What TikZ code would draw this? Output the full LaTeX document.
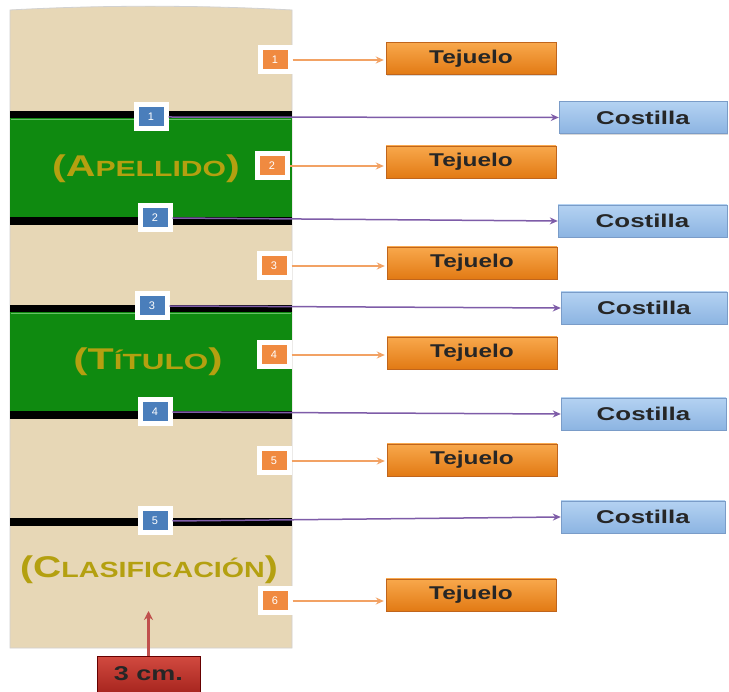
\documentclass[tikz,border=0pt]{standalone}
\usepackage{fontspec}
\setmainfont{Liberation Sans}
\usetikzlibrary{arrows.meta,shadows}
\definecolor{beige}{HTML}{E7D7B6}
\definecolor{spinegreen}{HTML}{0F8A10}
\definecolor{goldtext}{HTML}{B4A010}
\definecolor{sqblue}{HTML}{4A7EBB}
\definecolor{sqorange}{HTML}{F08A40}
\definecolor{arrpurple}{HTML}{7E5CA8}
\definecolor{arrorange}{HTML}{F2A264}
\definecolor{arrred}{HTML}{C0504D}
\definecolor{tejtop}{HTML}{F8A84C}
\definecolor{tejbot}{HTML}{E27A14}
\definecolor{tejdraw}{HTML}{C0651C}
\definecolor{costop}{HTML}{B4D2F2}
\definecolor{cosbot}{HTML}{8CB4E2}
\definecolor{cosdraw}{HTML}{7A9CC8}
\definecolor{redtop}{HTML}{D24A40}
\definecolor{redbot}{HTML}{A8261F}
\newcommand{\sx}[2]{\scalebox{#1}[1]{#2}}
\newcommand{\fs}[1]{\fontsize{#1}{#1}\selectfont}
\tikzset{
  numsq/.style={draw=white, line width=5pt, minimum width=30pt, minimum height=24pt,
    inner sep=0pt, text=white, font=\fs{11},
    drop shadow={opacity=0.3, shadow xshift=1pt, shadow yshift=-1.5pt}},
  bluesq/.style={numsq, fill=sqblue},
  orangesq/.style={numsq, fill=sqorange},
  tejbox/.style={draw=tejdraw, top color=tejtop, bottom color=tejbot,
    minimum width=170pt, minimum height=32pt, inner sep=0pt, font=\fs{18.5}\bfseries, text=black!85,
    drop shadow={opacity=0.3, shadow xshift=1pt, shadow yshift=-1.5pt}},
  cosbox/.style={draw=cosdraw, top color=costop, bottom color=cosbot,
    minimum height=32pt, inner sep=0pt, font=\fs{18.5}\bfseries, text=black!85,
    drop shadow={opacity=0.3, shadow xshift=1pt, shadow yshift=-1.5pt}},
  spinetext/.style={text=goldtext, font=\bfseries, inner sep=0pt},
  purplearrow/.style={draw=arrpurple, line width=1.5pt, -{Stealth[length=8pt,width=7pt]}},
  orangearrow/.style={draw=arrorange, line width=1.5pt, -{Stealth[length=8pt,width=7pt]}, shorten >=2pt},
  redarrow/.style={draw=arrred, line width=2.5pt, -{Stealth[length=9pt,width=9pt]}},
  redbox/.style={draw=red!40!black, top color=redtop, bottom color=redbot,
    minimum width=103pt, minimum height=36pt, inner sep=0pt, font=\fs{20}\bfseries, text=black!85}
}
\begin{document}
\begin{tikzpicture}[x=1pt,y=-1pt]
\useasboundingbox[fill=white] (0,0) rectangle (729,692);
% spine
\fill[beige, draw=black!18, line width=0.8pt] (10,10) .. controls (100,5) and (200,5) .. (292,10) -- (292,648) -- (10,648) -- cycle;
% bands and green panels
\fill[black] (10,111) rectangle (292,118);
\fill[spinegreen] (10,118) rectangle (292,217);
\draw[green!60!black!60!white, line width=1pt] (11,119.5) -- (291,119.5);
\fill[black] (10,217) rectangle (292,225);
\fill[black] (10,305) rectangle (292,312);
\fill[spinegreen] (10,312) rectangle (292,411);
\draw[green!60!black!60!white, line width=1pt] (11,313.5) -- (291,313.5);
\fill[black] (10,411) rectangle (292,419);
\fill[black] (10,518) rectangle (292,526);
% spine texts
\node[spinetext] (apellido) at (146,169) {\sx{1.37}{\fs{30}(A{\fs{22}PELLIDO})}};
\node[spinetext] (titulo) at (148,362) {\sx{1.43}{\fs{30}(T{\fs{22}ÍTULO})}};
\node[spinetext] (clasif) at (149,570) {\sx{1.3}{\fs{30}(C{\fs{22}LASIFICACIÓN})}};
% target boxes
\node[tejbox] (t1) at (471,58.5) {\sx{1.32}{Tejuelo}};
\node[tejbox] (t2) at (471,162) {\sx{1.32}{Tejuelo}};
\node[tejbox] (t3) at (472,263) {\sx{1.32}{Tejuelo}};
\node[tejbox] (t4) at (472,353) {\sx{1.32}{Tejuelo}};
\node[tejbox] (t5) at (472,460) {\sx{1.32}{Tejuelo}};
\node[tejbox] (t6) at (471,595) {\sx{1.32}{Tejuelo}};
\node[cosbox, minimum width=168pt] (c1) at (643,117.5) {\sx{1.4}{Costilla}};
\node[cosbox, minimum width=169pt] (c2) at (642.5,221) {\sx{1.4}{Costilla}};
\node[cosbox, minimum width=166pt] (c3) at (644,308) {\sx{1.4}{Costilla}};
\node[cosbox, minimum width=165pt] (c4) at (643.5,414) {\sx{1.4}{Costilla}};
\node[cosbox, minimum width=164pt] (c5) at (643,517) {\sx{1.4}{Costilla}};
% number squares
\node[bluesq] (b1) at (151,117) {1};
\node[bluesq] (b2) at (155,218) {2};
\node[bluesq] (b3) at (152,306) {3};
\node[bluesq] (b4) at (155,412) {4};
\node[bluesq] (b5) at (155,521) {5};
\node[orangesq] (o1) at (275,60) {1};
\node[orangesq] (o2) at (272,166) {2};
\node[orangesq] (o3) at (274,266) {3};
\node[orangesq] (o4) at (274,355) {4};
\node[orangesq] (o5) at (274,461) {5};
\node[orangesq] (o6) at (275,601) {6};
% connectors
\draw[purplearrow] (b1.east) -- (c1.west);
\draw[purplearrow] (b2.east) -- (c2.west);
\draw[purplearrow] (b3.east) -- (c3.west);
\draw[purplearrow] (b4.east) -- (c4.west);
\draw[purplearrow] (b5.east) -- (c5.west);
\draw[orangearrow] (o1.east) -- (t1.west |- o1.east);
\draw[orangearrow] (o2.east) -- (t2.west |- o2.east);
\draw[orangearrow] (o3.east) -- (t3.west |- o3.east);
\draw[orangearrow] (o4.east) -- (t4.west |- o4.east);
\draw[orangearrow] (o5.east) -- (t5.west |- o5.east);
\draw[orangearrow] (o6.east) -- (t6.west |- o6.east);
% width marker
\node[redbox] (r) at (148.5,674) {\sx{1.35}{3 cm.}};
\coordinate (rtip) at (148.5,611);
\draw[redarrow] (r.north) -- (rtip);
\end{tikzpicture}
\end{document}
